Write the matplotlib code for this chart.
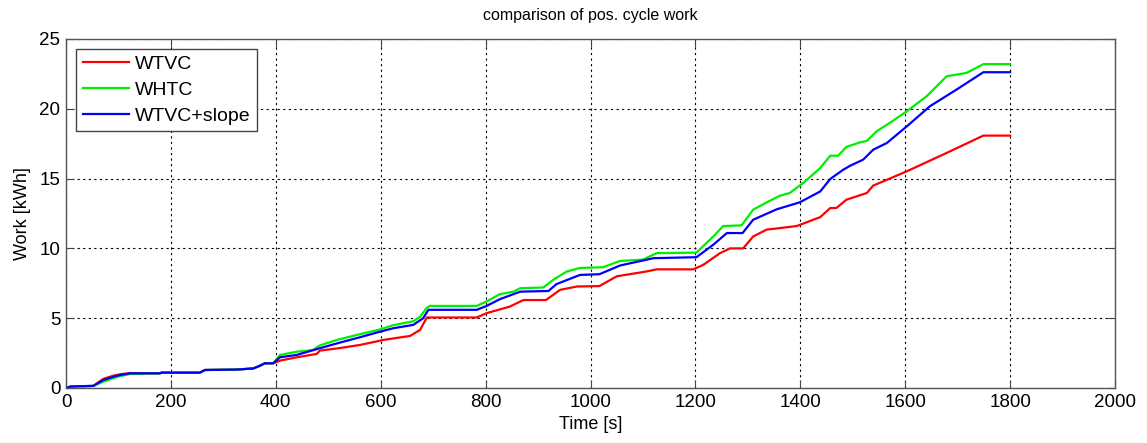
import matplotlib.pyplot as plt

plt.rcParams["font.family"] = ["Liberation Sans", "DejaVu Sans"]

# common start of all three cycles
t_start = [0, 8, 20, 52, 71, 90, 103, 122, 179, 182, 255, 265, 325, 357, 370, 379, 395]
w_start = [0, 0.1, 0.12, 0.15, 0.57, 0.8, 0.93, 1.05, 1.05, 1.1, 1.1, 1.29, 1.32, 1.4, 1.6, 1.77, 1.77]

t_wtvc = [408, 440, 478, 484, 520, 560, 605, 656, 675, 688, 783, 802, 846, 872, 915, 942,
          974, 1017, 1050, 1107, 1126, 1196, 1215, 1247, 1266, 1291, 1310, 1336, 1349, 1393,
          1438, 1457, 1469, 1488, 1527, 1539, 1603, 1679, 1705, 1749, 1800]
w_wtvc = [1.96, 2.2, 2.44, 2.68, 2.85, 3.08, 3.44, 3.73, 4.16, 5.05, 5.05, 5.36, 5.83, 6.3, 6.3, 7.03,
          7.27, 7.3, 8.0, 8.35, 8.5, 8.5, 8.82, 9.66, 10.0, 10.0, 10.85, 11.35, 11.4, 11.6,
          12.24, 12.89, 12.9, 13.49, 13.97, 14.5, 15.52, 16.84, 17.3, 18.08, 18.08]

t_whtc = [408, 440, 471, 484, 516, 560, 599, 624, 662, 675, 688, 694, 783, 802, 827, 853, 866,
          910, 929, 955, 980, 1024, 1056, 1100, 1126, 1202, 1234, 1253, 1288, 1310, 1336, 1361,
          1380, 1406, 1438, 1457, 1472, 1488, 1514, 1527, 1546, 1571, 1603, 1641, 1679, 1717,
          1749, 1800]
w_whtc = [2.37, 2.6, 2.72, 3.05, 3.44, 3.85, 4.2, 4.5, 4.78, 5.1, 5.75, 5.88, 5.88, 6.2, 6.72, 6.9, 7.15,
          7.2, 7.75, 8.35, 8.6, 8.65, 9.1, 9.2, 9.66, 9.7, 10.85, 11.6, 11.65, 12.77, 13.3, 13.77,
          13.97, 14.7, 15.76, 16.64, 16.64, 17.27, 17.6, 17.7, 18.4, 19.0, 19.82, 20.9, 22.33, 22.57,
          23.2, 23.2]

t_slope = [408, 440, 484, 522, 560, 599, 624, 662, 681, 691, 783, 802, 827, 866, 920, 935, 980,
           1017, 1056, 1120, 1202, 1234, 1260, 1290, 1310, 1355, 1399, 1438, 1457, 1482, 1495,
           1520, 1539, 1565, 1603, 1647, 1698, 1749, 1800]
w_slope = [2.2, 2.37, 2.85, 3.25, 3.63, 4.04, 4.28, 4.52, 5.0, 5.6, 5.6, 5.88, 6.36, 6.9, 6.95, 7.44, 8.1,
           8.15, 8.77, 9.3, 9.37, 10.26, 11.1, 11.1, 12.05, 12.8, 13.3, 14.08, 14.97, 15.64, 15.92,
           16.36, 17.07, 17.55, 18.74, 20.18, 21.38, 22.62, 22.62]

# small early deviations (red a bit above, green a bit below)
w_start_red = [0, 0.1, 0.12, 0.15, 0.65, 0.88, 0.98, 1.07] + w_start[8:]
w_start_green = [0, 0.1, 0.12, 0.15, 0.45, 0.7, 0.85, 1.0] + w_start[8:]

fig = plt.figure(figsize=(11.47, 4.43), dpi=100)
ax = fig.add_axes([66 / 1147, 55 / 443, 1049 / 1147, 349 / 443])

ax.plot(t_start + t_wtvc, w_start_red + w_wtvc, color="#ff0000", lw=1.6, label="WTVC")
ax.plot(t_start + t_whtc, w_start_green + w_whtc, color="#00ee00", lw=1.6, label="WHTC")
ax.plot(t_start + t_slope, w_start + w_slope, color="#0000ff", lw=1.6, label="WTVC+slope")

ax.set_xlim(0, 2000)
ax.set_ylim(0, 25)
ax.set_xticks(range(0, 2001, 200))
ax.set_yticks(range(0, 26, 5))
ax.grid(True, color="black", linestyle=(0, (2, 3)), linewidth=0.8)
ax.tick_params(direction="in", top=True, right=True, labelsize=13.5, length=6,
               color="#444444", pad=4)
for s in ax.spines.values():
    s.set_color("#555555")
    s.set_linewidth(1.0)

ax.set_xlabel("Time [s]", fontsize=13, labelpad=4)
ax.set_ylabel("Work [kWh]", fontsize=13, labelpad=6)
ax.set_title("comparison of pos. cycle work", fontsize=11.5, pad=14)

leg = ax.legend(loc="upper left", fontsize=14, fancybox=False, framealpha=1,
                edgecolor="#444444", borderpad=0.35, labelspacing=0.42,
                handlelength=2.4, handletextpad=0.3, borderaxespad=0.5)
leg.get_frame().set_linewidth(1.0)

fig.savefig("out.png", dpi=100)
